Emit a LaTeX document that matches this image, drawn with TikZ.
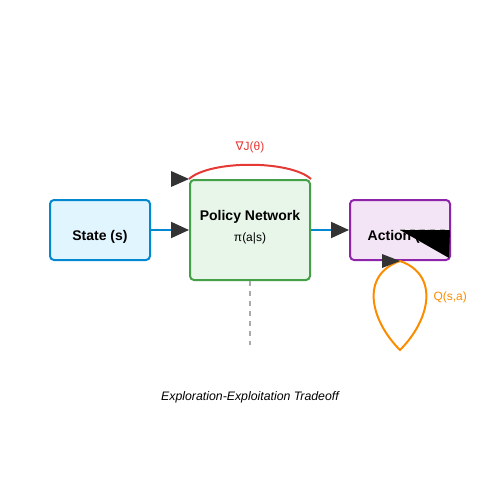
\documentclass[tikz,border=0pt]{standalone}
\usepackage{fontspec}
\setmainfont{Liberation Sans}
\newfontfamily\symfont{DejaVu Sans}
\usetikzlibrary{arrows.meta}
\definecolor{sblue}{HTML}{0288D1}
\definecolor{sbluef}{HTML}{E1F5FE}
\definecolor{pgreen}{HTML}{43A047}
\definecolor{pgreenf}{HTML}{E8F5E9}
\definecolor{apurp}{HTML}{8E24AA}
\definecolor{apurpf}{HTML}{F3E5F5}
\definecolor{ared}{HTML}{E53935}
\definecolor{aorange}{HTML}{FB8C00}
\definecolor{dgray}{HTML}{333333}
\definecolor{lgray}{HTML}{AAAAAA}
\tikzset{
  box/.style={draw, line width=2pt, rounded corners=4pt, inner sep=0pt},
  conn/.style={line width=2pt, -{Triangle[length=18pt,width=16pt,color=dgray]}},
  head/.style={fill=dgray, draw=none},
}
\begin{document}
\begin{tikzpicture}[x=1pt,y=-1pt]
\useasboundingbox (0,0) rectangle (500,500);
\node[box, draw=sblue, fill=sbluef, minimum width=100pt, minimum height=60pt] (state) at (100,230) {};
\node[font=\fontsize{14}{16}\selectfont\bfseries] (statet) at (100,237) {State (s)};
\node[box, draw=pgreen, fill=pgreenf, minimum width=120pt, minimum height=100pt] (policy) at (250,230) {};
\node[font=\fontsize{14}{16}\selectfont\bfseries] (policyt) at (250,217) {Policy Network};
\node[font=\fontsize{12}{14}\selectfont] (policys) at (250,238) {π(a|s)};
\node[box, draw=apurp, fill=apurpf, minimum width=100pt, minimum height=60pt] (action) at (400,230) {};
\node[font=\fontsize{14}{16}\selectfont\bfseries] (actiont) at (400,237) {Action (a)};
% connectors
\draw[conn, sblue] (state.east) -- (policy.west);
\draw[conn, sblue] (policy.east) -- (action.west);
% policy gradient arc
\draw[ared, line width=2pt] (policy.north east) .. controls (290,160) and (210,160) .. (policy.north west);
\fill[head] (policy.north west) -- ++(-18,-8) -- ++(0,16) -- cycle;
\node[ared, font=\fontsize{12}{14}\selectfont] (grad) at (250,147) {{\symfont ∇}J(θ)};
% Q loop
\coordinate (qs) at (action.south);
\coordinate (qtip) at (400,350);
\draw[aorange, line width=2pt] (qs) .. controls (360,275) and (370,320) .. (qtip) .. controls (430,320) and (440,275) .. (qs);
\fill[head] (qs) -- ++(-18,-7) -- ++(0,14) -- cycle;
\node[aorange, font=\fontsize{12}{14}\selectfont, anchor=west] (qlab) at (430,297) {Q(s,a)};
% black triangle on action
\coordinate (ta) at (action.center);
\coordinate (tb) at ([xshift=-1pt]action.east);
\draw[lgray, line width=2pt, dash pattern=on 5pt off 5pt] (ta) -- (tb);
\fill[black] (ta) -- (tb) -- (449,258) -- cycle;
% dashed vertical
\coordinate (dend) at (250,345);
\draw[lgray, line width=2pt, dash pattern=on 5pt off 5pt] (policy.south) -- (dend);
\node[font=\fontsize{12.3}{14}\selectfont\itshape] (cap) at (250,397) {Exploration-Exploitation Tradeoff};
\end{tikzpicture}
\end{document}
